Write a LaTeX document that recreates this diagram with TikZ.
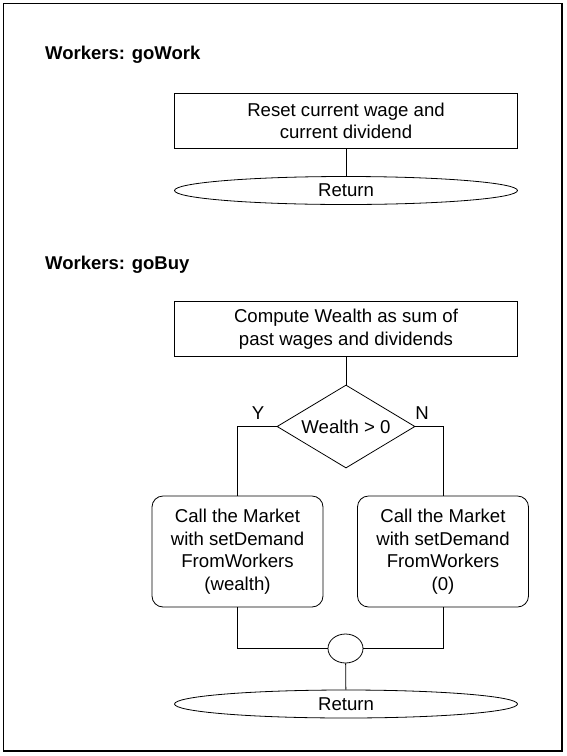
\documentclass[tikz,border=0pt]{standalone}
\usepackage{fontspec}
\setmainfont{Liberation Sans}
\usetikzlibrary{shapes.geometric}
\begin{document}
\begin{tikzpicture}[x=1pt,y=-1pt,
  txt/.style={font=\fontsize{18.6}{22.5}\selectfont, align=center},
  ttl/.style={font=\fontsize{18.5}{22}\selectfont\bfseries, anchor=base west, inner sep=0},
  proc/.style={txt, draw, rectangle, minimum width=343, minimum height=55, inner sep=0, line width=0.8pt},
  term/.style={txt, draw, ellipse, minimum width=343, minimum height=28, inner sep=0, line width=0.8pt},
  call/.style={txt, draw, rectangle, rounded corners=11, minimum width=171, minimum height=111, inner sep=0, line width=0.8pt},
  dec/.style={txt, draw, diamond, aspect=1.66, minimum width=138, minimum height=83, inner sep=0, line width=0.8pt},
  joinpt/.style={draw, ellipse, minimum width=35, minimum height=29, inner sep=0, line width=0.8pt},
  conn/.style={line width=0.8pt},
  lbl/.style={font=\fontsize{18.6}{22}\selectfont, inner sep=0}]
\useasboundingbox (0,0) rectangle (567,756);
\draw[line width=1.1pt] (3.5,3.5) rectangle (562,751);

\node[ttl] (t1) at (45,59) {Workers: goWork};
\node[proc] (b1) at (346,121) {Reset current wage and\\current dividend};
\node[term] (r1) at (346,190.5) {Return};
\draw[conn] (b1) -- (r1);

\node[ttl] (t2) at (45,269) {Workers: goBuy};
\node[proc] (b2) at (346,329) {Compute Wealth as sum of\\past wages and dividends};
\node[dec] (d) at (346,426.5) {Wealth > 0};
\node[call] (b3) at (237.5,551.5) {Call the Market\\with setDemand\\FromWorkers\\(wealth)};
\node[call] (b4) at (443,551.5) {Call the Market\\with setDemand\\FromWorkers\\(0)};
\node[joinpt] (c) at (345.5,648.5) {};
\node[term] (r2) at (346,704) {Return};
\node[lbl] (y) at (258,413) {Y};
\node[lbl] (n) at (422,413) {N};

\draw[conn] (b2) -- (d);
\draw[conn] (d.west) -| (b3.north);
\draw[conn] (d.east) -| (b4.north);
\draw[conn] (b3.south) |- (c.west);
\draw[conn] (b4.south) |- (c.east);
\draw[conn] (c) -- (r2);
\end{tikzpicture}
\end{document}
